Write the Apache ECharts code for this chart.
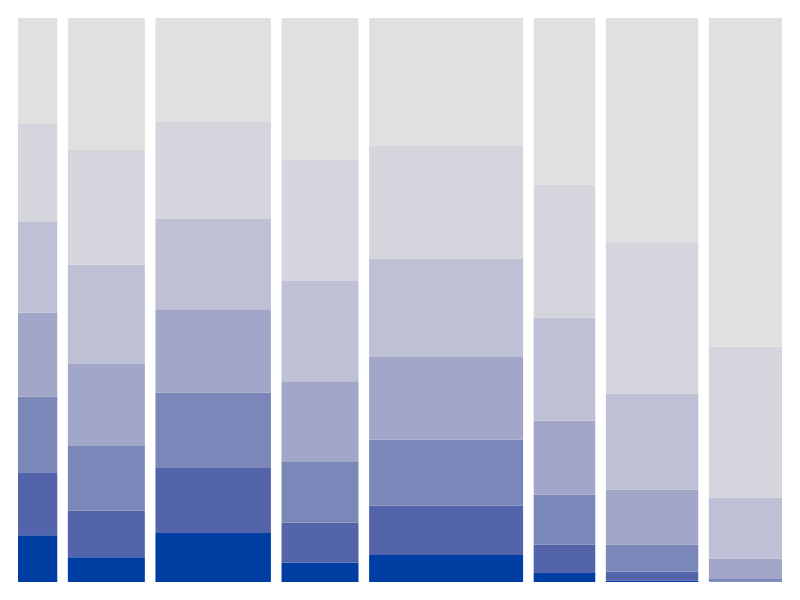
<!DOCTYPE html>
<html lang="en">
<head>
    <meta charset="UTF-8">
    <title>Marimekko</title>
    <script src="https://cdn.jsdelivr.net/npm/echarts@6/dist/echarts.min.js"></script>
</head>
<style>
    *{
        margin: 0;
        padding: 0;
    }
    html,body{
        width: 100%;
        height: 100%;
        overflow: hidden;
        background: #fff;
    }
    .container{
        width: 800px;
        height: 600px;
    }
</style>
<body>
<div class="container"></div>
<script>
    // column widths (share of total)
    let widths = [10.2, 20, 30, 20, 40, 16, 24, 19];

    // segment values per column, bottom level first
    let level1 = [8.3, 4.4, 8.7, 3.4, 4.8, 1.6, 0.2, 0.05];
    let level2 = [11.2, 8.2, 11.5, 7.1, 8.7, 5.0, 1.6, 0.1];
    let level3 = [13.4, 11.5, 13.3, 10.8, 11.7, 8.9, 4.8, 0.5];
    let level4 = [14.9, 14.5, 14.7, 14.2, 14.7, 13.1, 9.8, 3.5];
    let level5 = [16.1, 17.6, 16.1, 17.9, 17.4, 18.3, 17.0, 10.8];
    let level6 = [17.4, 20.3, 17.2, 21.5, 20.0, 23.6, 27.0, 26.8];
    let level7 = [18.8, 23.4, 18.4, 25.2, 22.7, 29.6, 39.7, 58.2];

    let levels = [level1, level2, level3, level4, level5, level6, level7];
    let colors = ['#003ea3', '#5464ab', '#7c87b9', '#a2a6c8', '#bec1d5', '#d5d6dd', '#e0e0e0'];

    let gap = 2.75;

    let container = document.querySelector('.container');
    let mycharts = echarts.init(container);

    // x start of each column
    let starts = [];
    let pos = 0;
    widths.forEach((w, i) => {
        starts.push(pos);
        pos += w + (i < widths.length - 1 ? gap : 0);
    });
    let total = pos;

    // column sums for normalising to 100%
    let sums = widths.map((w, i) => levels.reduce((s, l) => s + l[i], 0));

    let series = [];
    let base = widths.map(() => 0);
    levels.forEach((lvl, k) => {
        let data = lvl.map((v, i) => {
            let y0 = base[i];
            let y1 = y0 + v / sums[i] * 100;
            base[i] = y1;
            return [starts[i], starts[i] + widths[i], y0, y1];
        });
        series.push({
            type: 'custom',
            name: 'level' + (k + 1),
            encode: {x: [0, 1], y: [2, 3]},
            data: data,
            renderItem: function (params, api) {
                let p0 = api.coord([api.value(0), api.value(2)]);
                let p1 = api.coord([api.value(1), api.value(3)]);
                return {
                    type: 'rect',
                    shape: {
                        x: p0[0],
                        y: p1[1],
                        width: p1[0] - p0[0],
                        height: p0[1] - p1[1]
                    },
                    style: {fill: colors[k]}
                };
            }
        });
    });

    let option = {
        animation: false,
        grid: {left: 18, right: 18, top: 18, bottom: 18},
        xAxis: {type: 'value', min: 0, max: total, show: false},
        yAxis: {type: 'value', min: 0, max: 100, show: false},
        series
    };

    mycharts.setOption(option);
</script>
</body>
</html>
